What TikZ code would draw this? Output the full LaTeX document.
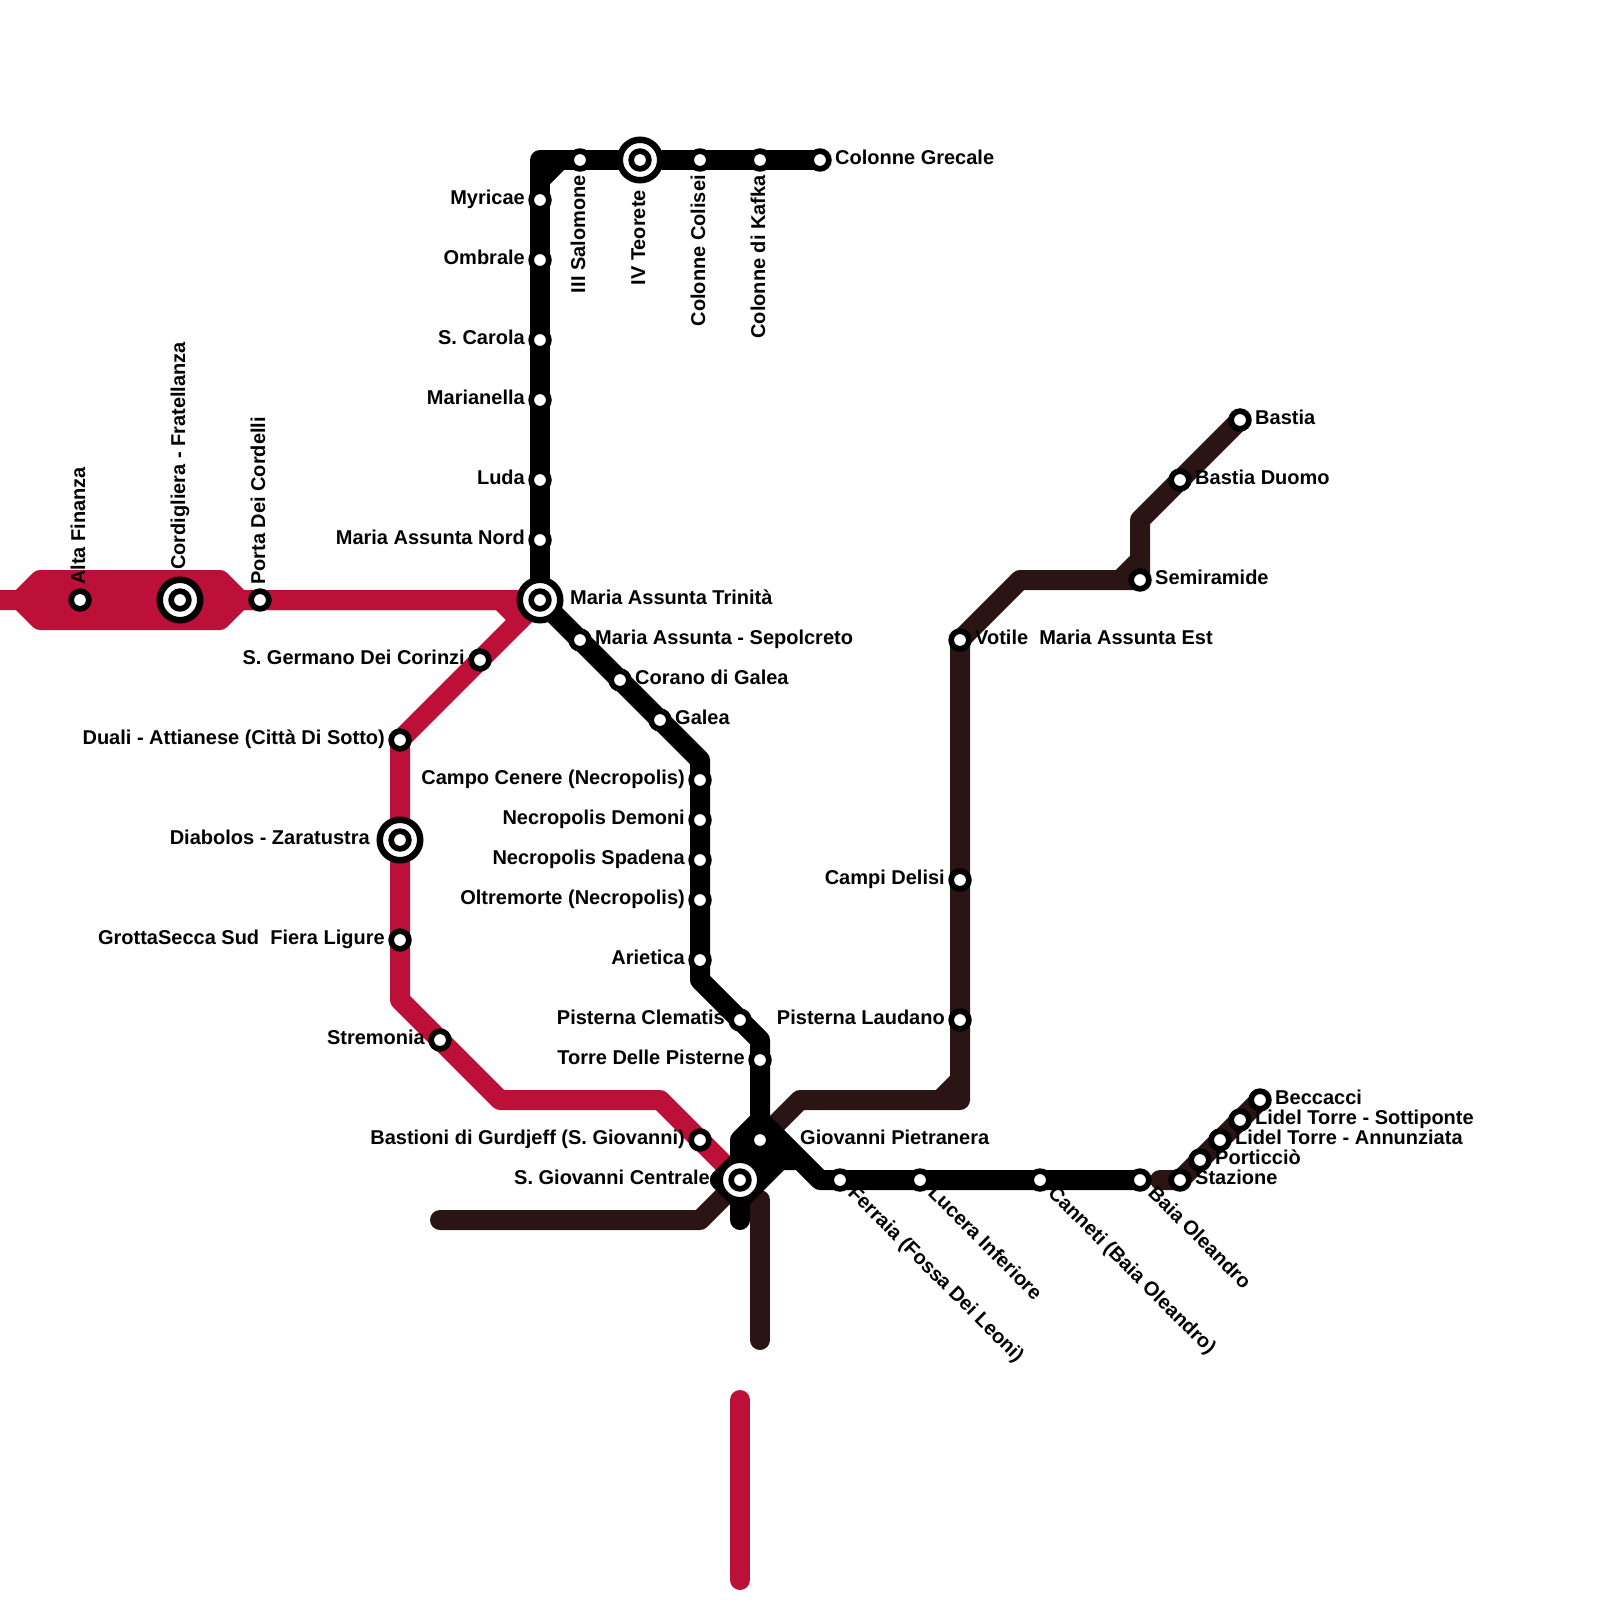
\documentclass[tikz,border=0pt]{standalone}
\usepackage{fontspec}
\setmainfont{Liberation Sans}
\usetikzlibrary{backgrounds}
\definecolor{redline}{HTML}{BD1038}
\definecolor{darkline}{HTML}{2A1414}
\tikzset{
  x=1pt,y=-1pt,
  redroute/.style={draw=redline,line width=20pt,line cap=round,line join=round},
  darkroute/.style={draw=darkline,line width=20pt,line cap=round,line join=round},
  blackroute/.style={draw=black,line width=20pt,line cap=round,line join=round},
  stdot/.style={circle,draw=black,fill=white,line width=5.7pt,minimum size=17.7pt,inner sep=0pt,outer sep=0pt},
  stouter/.style={circle,draw=black,fill=white,line width=6.5pt,minimum size=40.5pt,inner sep=0pt,outer sep=0pt},
  lbl/.style={font=\fontsize{20}{24}\selectfont\bfseries,inner sep=0pt,text=black},
  lr/.style={lbl,anchor=base west},
  ll/.style={lbl,anchor=base east},
  lu/.style={lbl,rotate=90,anchor=base west},
  ld/.style={lbl,rotate=90,anchor=base east},
  ldg/.style={lbl,rotate=-45,anchor=base west},
}
\newcommand{\stn}[3]{\node[stdot] (#1) at (#2,#3) {};}
\newcommand{\xstn}[3]{\node[stouter] (#1-o) at (#2,#3) {};\node[stdot] (#1) at (#2,#3) {};}
\newcommand{\lab}[4]{\node[#3] (#1-t) at ([shift={(#2)}]#1.center) {#4};}
\begin{document}
\begin{tikzpicture}
\useasboundingbox (0,0) rectangle (1600,1600);
% stations
\stn{alta}{80}{600}
\xstn{cord}{180}{600}
\stn{porta}{260}{600}
\xstn{trin}{540}{600}
\stn{germ}{480}{660}
\stn{duali}{400}{740}
\xstn{diab}{400}{840}
\stn{fiera}{400}{940}
\stn{strem}{440}{1040}
\stn{bast}{700}{1140}
\xstn{cent}{740}{1180}
\stn{myr}{540}{200}
\stn{omb}{540}{260}
\stn{car}{540}{340}
\stn{mar}{540}{400}
\stn{luda}{540}{480}
\stn{nord}{540}{540}
\stn{salo}{580}{160}
\xstn{teor}{640}{160}
\stn{coli}{700}{160}
\stn{kafka}{760}{160}
\stn{grec}{820}{160}
\stn{sepo}{580}{640}
\stn{cora}{620}{680}
\stn{galea}{660}{720}
\stn{camp}{700}{780}
\stn{demo}{700}{820}
\stn{spad}{700}{860}
\stn{oltr}{700}{900}
\stn{arie}{700}{960}
\stn{clem}{740}{1020}
\stn{torre}{760}{1060}
\stn{giov}{760}{1140}
\stn{ferr}{840}{1180}
\stn{luce}{920}{1180}
\stn{cann}{1040}{1180}
\stn{baia}{1140}{1180}
\stn{staz}{1180}{1180}
\stn{port}{1200}{1160}
\stn{annu}{1220}{1140}
\stn{sott}{1240}{1120}
\stn{becc}{1260}{1100}
\stn{laud}{960}{1020}
\stn{deli}{960}{880}
\stn{voti}{960}{640}
\stn{semi}{1140}{580}
\stn{duom}{1180}{480}
\stn{bastia}{1240}{420}
% bends
\coordinate (r0) at (0,600);
\coordinate (r1) at (20,600);
\coordinate (r2) at (40,580);
\coordinate (r3) at (220,580);
\coordinate (r4) at (240,600);
\coordinate (r5) at (40,620);
\coordinate (r6) at (220,620);
\coordinate (r7) at (500,600);
\coordinate (r8) at (520,620);
\coordinate (r9) at (400,1000);
\coordinate (r10) at (500,1100);
\coordinate (r11) at (660,1100);
\coordinate (r12) at (740,1400);
\coordinate (r13) at (740,1580);
\coordinate (d1) at (440,1220);
\coordinate (d2) at (700,1220);
\coordinate (d3) at (800,1100);
\coordinate (d4) at (960,1100);
\coordinate (d5) at (1020,580);
\coordinate (d6) at (1140,520);
\coordinate (d7) at (940,1100);
\coordinate (d8) at (960,1080);
\coordinate (d9) at (1120,580);
\coordinate (d10) at (1140,560);
\coordinate (d11) at (760,1200);
\coordinate (d12) at (760,1340);
\coordinate (d13) at (1160,1180);
\coordinate (k0) at (540,160);
\coordinate (k1) at (540,180);
\coordinate (k2) at (560,160);
\coordinate (k3) at (700,760);
\coordinate (k4) at (700,980);
\coordinate (k5) at (760,1040);
\coordinate (k6) at (760,1120);
\coordinate (k7) at (740,1140);
\coordinate (k8) at (740,1220);
\coordinate (k9) at (820,1180);
\coordinate (k10) at (720,1180);
\coordinate (k11) at (740,1200);
\coordinate (k12) at (780,1160);
\coordinate (k13) at (795,1160);
\begin{pgfonlayer}{background}
% red
\draw[redroute] (r0) -- (r1) -- (r2) -- (r3) -- (r4) -- (porta.center) -- (r7) -- (r8);
\draw[redroute] (r1) -- (r5) -- (r6) -- (r4);
\fill[redline] (r2) -- (r3) -- (r4) -- (r6) -- (r5) -- (r1) -- cycle;
\draw[redroute] (r4) -- (trin.center) -- (germ.center) -- (duali.center) -- (diab.center) -- (fiera.center) -- (r9) -- (strem.center) -- (r10) -- (r11) -- (bast.center) -- (cent.center);
\draw[redroute] (r12) -- (r13);
% dark
\draw[darkroute] (d1) -- (d2) -- (cent.center) -- (giov.center) -- (d3) -- (d4) -- (laud.center) -- (deli.center) -- (voti.center) -- (d5) -- (semi.center) -- (d6) -- (duom.center) -- (bastia.center);
\draw[darkroute] (d7) -- (d8);
\draw[darkroute] (d9) -- (d10);
\draw[darkroute] (d11) -- (d12);
\draw[darkroute] (d13) -- (staz.center) -- (port.center) -- (annu.center) -- (sott.center) -- (becc.center);
% black
\draw[blackroute] (trin.center) -- (nord.center) -- (luda.center) -- (mar.center) -- (car.center) -- (omb.center) -- (myr.center) -- (k0) -- (salo.center) -- (teor.center) -- (coli.center) -- (kafka.center) -- (grec.center);
\draw[blackroute] (k1) -- (k2);
\draw[blackroute] (trin.center) -- (sepo.center) -- (cora.center) -- (galea.center) -- (k3) -- (camp.center) -- (demo.center) -- (spad.center) -- (oltr.center) -- (arie.center) -- (k4) -- (clem.center) -- (k5) -- (torre.center) -- (k6) -- (k7) -- (cent.center) -- (k8);
\draw[blackroute] (k6) -- (k9) -- (ferr.center) -- (luce.center) -- (cann.center) -- (baia.center);
\draw[blackroute] (k10) -- (giov.center);
\draw[blackroute] (k10) -- (k11) -- (k12) -- (k13);
\fill[black] (k10) -- (k6) -- (k13) -- (k12) -- (k11) -- cycle;
\end{pgfonlayer}
% labels
\lab{alta}{5,-15}{lu}{Alta Finanza}
\lab{cord}{5,-30}{lu}{Cordigliera - Fratellanza}
\lab{porta}{5,-15}{lu}{Porta Dei Cordelli}
\lab{trin}{30,4.75}{lr}{Maria Assunta Trinità}
\lab{germ}{-15,4.75}{ll}{S. Germano Dei Corinzi}
\lab{duali}{-15,4.75}{ll}{Duali - Attianese (Città Di Sotto)}
\lab{diab}{-30,4.75}{ll}{Diabolos - Zaratustra}
\lab{fiera}{-15,4.75}{ll}{GrottaSecca Sud\ \ Fiera Ligure}
\lab{strem}{-15,4.75}{ll}{Stremonia}
\lab{bast}{-15,4.75}{ll}{Bastioni di Gurdjeff (S. Giovanni)}
\lab{cent}{-30,4.75}{ll}{S. Giovanni Centrale}
\lab{myr}{-15,4.75}{ll}{Myricae}
\lab{omb}{-15,4.75}{ll}{Ombrale}
\lab{car}{-15,4.75}{ll}{S. Carola}
\lab{mar}{-15,4.75}{ll}{Marianella}
\lab{luda}{-15,4.75}{ll}{Luda}
\lab{nord}{-15,4.75}{ll}{Maria Assunta Nord}
\lab{salo}{5,15}{ld}{III Salomone}
\lab{teor}{5,30}{ld}{IV Teorete}
\lab{coli}{5,15}{ld}{Colonne Colisei}
\lab{kafka}{5,15}{ld}{Colonne di Kafka}
\lab{grec}{15,4.75}{lr}{Colonne Grecale}
\lab{sepo}{15,4.75}{lr}{Maria Assunta - Sepolcreto}
\lab{cora}{15,4.75}{lr}{Corano di Galea}
\lab{galea}{15,4.75}{lr}{Galea}
\lab{camp}{-15,4.75}{ll}{Campo Cenere (Necropolis)}
\lab{demo}{-15,4.75}{ll}{Necropolis Demoni}
\lab{spad}{-15,4.75}{ll}{Necropolis Spadena}
\lab{oltr}{-15,4.75}{ll}{Oltremorte (Necropolis)}
\lab{arie}{-15,4.75}{ll}{Arietica}
\lab{clem}{-15,4.75}{ll}{Pisterna Clematis}
\lab{torre}{-15,4.75}{ll}{Torre Delle Pisterne}
\lab{giov}{40,4.75}{lr}{Giovanni Pietranera}
\lab{ferr}{7,14}{ldg}{Ferraia (Fossa Dei Leoni)}
\lab{luce}{7,14}{ldg}{Lucera Inferiore}
\lab{cann}{7,14}{ldg}{Canneti (Baia Oleandro)}
\lab{baia}{7,14}{ldg}{Baia Oleandro}
\lab{staz}{15,4.75}{lr}{Stazione}
\lab{port}{15,4.75}{lr}{Porticciò}
\lab{annu}{15,4.75}{lr}{Lidel Torre - Annunziata}
\lab{sott}{15,4.75}{lr}{Lidel Torre - Sottiponte}
\lab{becc}{15,4.75}{lr}{Beccacci}
\lab{laud}{-15,4.75}{ll}{Pisterna Laudano}
\lab{deli}{-15,4.75}{ll}{Campi Delisi}
\lab{voti}{15,4.75}{lr}{Votile\ \ Maria Assunta Est}
\lab{semi}{15,4.75}{lr}{Semiramide}
\lab{duom}{15,4.75}{lr}{Bastia Duomo}
\lab{bastia}{15,4.75}{lr}{Bastia}
\end{tikzpicture}
\end{document}
